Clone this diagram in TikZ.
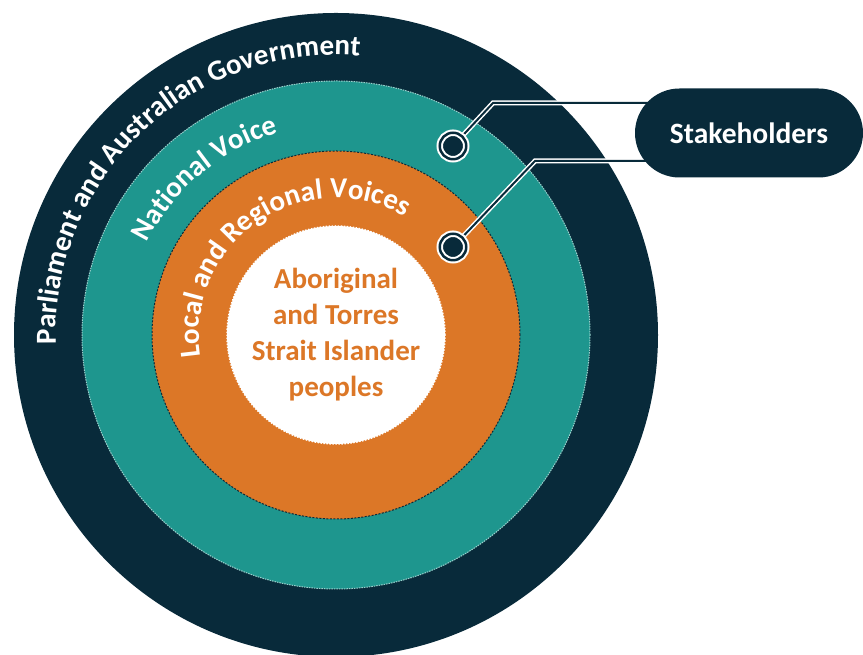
\documentclass[tikz,border=0pt]{standalone}
\usepackage{fontspec}
\setmainfont{Carlito}
\usetikzlibrary{decorations.text}
\definecolor{govnavy}{HTML}{082A3A}
\definecolor{voiceteal}{HTML}{1E968E}
\definecolor{voiceorange}{HTML}{DC7727}
\newcommand\bandfont{\fontsize{29}{29}\selectfont\bfseries}
\begin{document}
\begin{tikzpicture}
  [x=1pt,y=1pt,
   band text/.style={decorate,decoration={text along path,text align=center,
     text color=white,text={|\bandfont|#1}}},
   link/.style={draw=white,double=govnavy,line width=1.5,double distance=2},
   dotring/.style={circle,fill=govnavy,draw=white,double=govnavy,line width=2,
     double distance=2.5,minimum size=26.5,inner sep=0},
   stakebox/.style={fill=govnavy,text=white,rounded corners=44.5,minimum width=228,
     minimum height=89,font=\fontsize{29.5}{29.5}\selectfont\bfseries}]
  \useasboundingbox (0,0) rectangle (863,655);
  \coordinate (C) at (336,320);
  % rings
  \fill[govnavy] (C) circle (322);
  \filldraw[fill=voiceteal,draw=white!55!voiceteal,line width=1,dash pattern=on 1.5 off 1] (C) circle (254);
  \filldraw[fill=voiceorange,draw=govnavy,line width=1,dash pattern=on 2 off 1.5] (C) circle (184);
  \filldraw[fill=white,draw=white,line width=1.5,dash pattern=on 1.5 off 1.5] (C) circle (109);
  % ring labels
  \path[band text=Parliament and Australian Government] (C) ++(200:280) arc[start angle=200,end angle=67,radius=280];
  \path[band text=National Voice] (C) ++(170:210) arc[start angle=170,end angle=90,radius=210];
  \path[band text=Local and Regional Voices] (C) ++(215:137) arc[start angle=215,end angle=34,radius=137];
  \node[align=center,text=voiceorange,font=\fontsize{29}{36}\selectfont\bfseries] (people) at (C)
    {Aboriginal\\and Torres\\Strait Islander\\peoples};
  % stakeholders
  \coordinate (m1) at (453,509);
  \coordinate (m2) at (453,408);
  \coordinate (b1) at (493,552);
  \coordinate (b2) at (535,494);
  \coordinate (s) at (749,522);
  \foreach \m/\b in {m1/b1,m2/b2}
    \draw[link] (\m) -- (\b) -- (s |- \b);
  \foreach \m in {m1,m2}
    \node[dotring] (\m dot) at (\m) {};
  \node[stakebox] (stake) at (s) {Stakeholders};
\end{tikzpicture}
\end{document}
